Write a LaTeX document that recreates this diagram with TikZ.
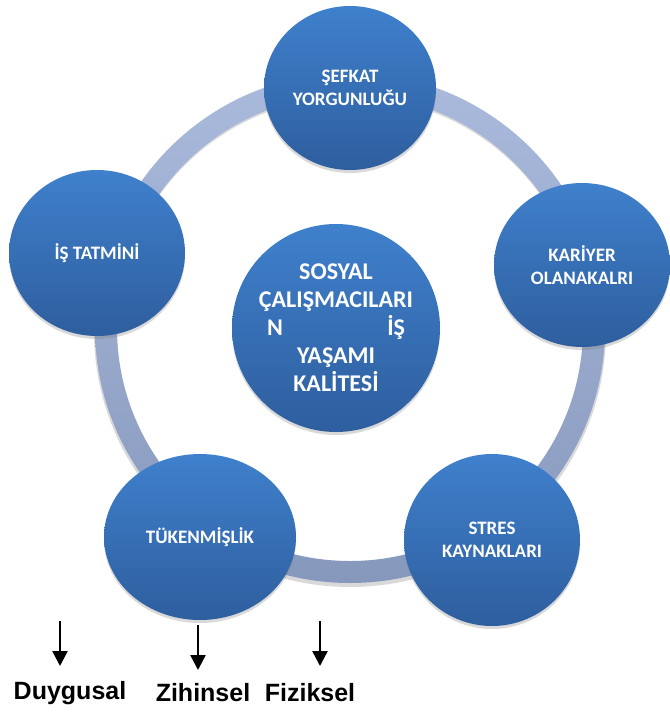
\documentclass[tikz,border=0pt]{standalone}
\usepackage{fontspec}
\setmainfont{Carlito}
\newfontfamily\arialfont{Liberation Sans}
\usetikzlibrary{calc}
\usetikzlibrary{positioning}
\usetikzlibrary{shapes.geometric}
\usetikzlibrary{arrows.meta}
\usetikzlibrary{shadows}
\definecolor{blobtop}{RGB}{63,128,204}
\definecolor{blobbot}{RGB}{46,94,158}
\definecolor{ringtop}{RGB}{170,186,220}
\definecolor{ringbot}{RGB}{134,152,188}
\tikzstyle{blob} = [ellipse, top color=blobtop, bottom color=blobbot, text=white, align=center, inner sep=0pt, font=\bfseries\fontsize{19}{23}\selectfont, drop shadow={opacity=0.3, shadow xshift=0pt, shadow yshift=-3pt}]
\tikzstyle{hubnode} = [blob, circle, minimum size=208pt, font=\bfseries\fontsize{24}{28}\selectfont]
\tikzstyle{kindlabel} = [font=\arialfont\bfseries\fontsize{25}{30}\selectfont]
\tikzstyle{kindarrow} = [line width=2.5pt, -{Triangle[width=15pt,length=15pt]}]

\begin{document}
\begin{tikzpicture}[x=1pt,y=-1pt]
\useasboundingbox (0,0) rectangle (670,713);
\coordinate (ringc) at (350,328);
% ring behind the circles
\path[fill=black, opacity=0.15, even odd rule]
  ($(ringc)+(0,3)$) circle[radius=256] ($(ringc)+(0,3)$) circle[radius=234];
\path[top color=ringtop, bottom color=ringbot, even odd rule]
  (ringc) circle[radius=255] (ringc) circle[radius=233];

\node[hubnode] (hub) at (336,328) {SOSYAL\\ÇALIŞMACILARI\\\makebox[138pt]{N\hfill İŞ}\\YAŞAMI\\KALİTESİ};
\node[blob, minimum width=172pt, minimum height=164pt] (sefkat) at ($(hub)+(14,-240)$) {ŞEFKAT\\YORGUNLUĞU};
\node[blob, minimum width=176pt, minimum height=164pt] (kariyer) at ($(hub)+(246,-63)$) {KARİYER\\OLANAKALRI};
\node[blob, minimum width=176pt, minimum height=166pt] (tatmin) at ($(hub)+(-239,-75)$) {İŞ TATMİNİ};
\node[blob, minimum width=192pt, minimum height=166pt] (tukenme) at ($(hub)+(-136,209)$) {TÜKENMİŞLİK};
\node[blob, minimum width=176pt, minimum height=172pt] (stres) at ($(hub)+(156,212)$) {STRES\\KAYNAKLARI};

\node[kindlabel] (duygu) at (70,693) {Duygusal};
\node[kindlabel] (zihin) at (203,693) {Zihinsel};
\node[kindlabel] (fizik) at (310,693) {Fiziksel};
\coordinate (duygutop) at (60,621);
\coordinate (zihintop) at (198,625);
\coordinate (fiziktop) at (320,621);
\draw[kindarrow] (duygutop) -- ($(duygutop)+(0,45)$);
\draw[kindarrow] (zihintop) -- ($(zihintop)+(0,45)$);
\draw[kindarrow] (fiziktop) -- ($(fiziktop)+(0,45)$);
\end{tikzpicture}
\end{document}
